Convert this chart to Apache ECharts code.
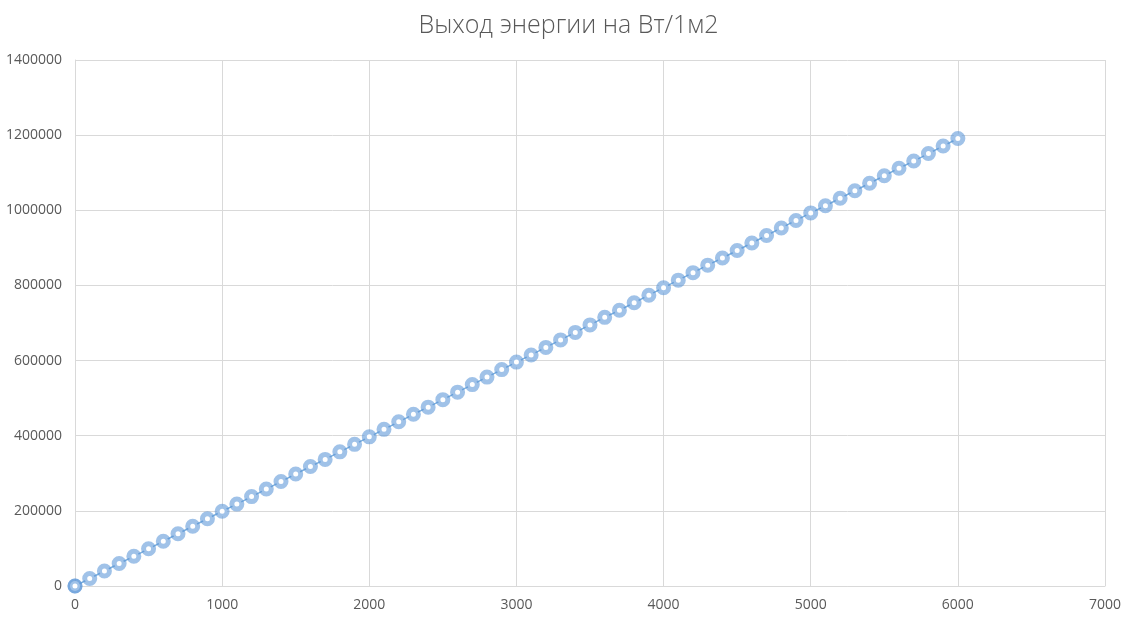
<!DOCTYPE html>
<html>
<head>
<meta charset="utf-8">
<script src="https://cdn.jsdelivr.net/npm/echarts@6/dist/echarts.min.js"></script>
<style>
html,body{margin:0;padding:0;background:#fff;}
#chart{width:1137px;height:626px;}
</style>
</head>
<body>
<div id="chart"></div>
<script>
var titleText = 'Выход энергии на Вт/1м2';
var xValues = [0, 0, 100, 200, 300, 400, 500, 600, 700, 800, 900, 1000,
  1100, 1200, 1300, 1400, 1500, 1600, 1700, 1800, 1900, 2000,
  2100, 2200, 2300, 2400, 2500, 2600, 2700, 2800, 2900, 3000,
  3100, 3200, 3300, 3400, 3500, 3600, 3700, 3800, 3900, 4000,
  4100, 4200, 4300, 4400, 4500, 4600, 4700, 4800, 4900, 5000,
  5100, 5200, 5300, 5400, 5500, 5600, 5700, 5800, 5900, 6000];
var yValues = [0, 0, 20000, 40000, 60000, 79000, 99000, 119000, 139000, 159000, 179000, 199000,
  218000, 238000, 258000, 278000, 298000, 318000, 337000, 357000, 377000, 397000,
  417000, 437000, 457000, 476000, 496000, 516000, 536000, 556000, 576000, 596000,
  615000, 635000, 655000, 675000, 695000, 715000, 734000, 754000, 774000, 794000,
  814000, 834000, 854000, 873000, 893000, 913000, 933000, 953000, 973000, 993000,
  1012000, 1032000, 1052000, 1072000, 1092000, 1112000, 1131000, 1151000, 1171000, 1191000];

var data = xValues.map(function (x, i) { return [x, yValues[i]]; });
var chart = echarts.init(document.getElementById('chart'), null, {renderer: 'canvas'});
var labelColor = '#595959';
var gridColor = '#d9d9d9';
function plain(v) { return String(v); }
chart.setOption({
  animation: false,
  backgroundColor: '#ffffff',
  title: {
    text: titleText,
    left: 'center',
    top: 8,
    textStyle: {fontFamily: 'Open Sans', fontWeight: 300, fontSize: 25, color: labelColor}
  },
  grid: {left: 75, right: 32, top: 60, bottom: 40, containLabel: false},
  xAxis: {
    type: 'value', min: 0, max: 7000, interval: 1000,
    axisLine: {show: true, lineStyle: {color: gridColor}},
    axisTick: {show: false},
    splitLine: {show: true, lineStyle: {color: gridColor}},
    axisLabel: {color: labelColor, fontSize: 14, fontFamily: 'Open Sans', margin: 12, formatter: plain}
  },
  yAxis: {
    type: 'value', min: 0, max: 1400000, interval: 200000,
    axisLine: {show: true, lineStyle: {color: gridColor}},
    axisTick: {show: false},
    splitLine: {show: true, lineStyle: {color: gridColor}},
    axisLabel: {color: labelColor, fontSize: 14, fontFamily: 'Open Sans', margin: 13, formatter: plain}
  },
  series: [{
    type: 'line',
    data: data,
    symbol: 'circle',
    symbolSize: 10,
    lineStyle: {color: 'rgba(91,155,213,0.8)', width: 1.5},
    itemStyle: {color: '#ffffff', borderColor: 'rgba(91,150,215,0.58)', borderWidth: 5},
    emphasis: {disabled: true}
  }]
});
</script>
</body>
</html>
